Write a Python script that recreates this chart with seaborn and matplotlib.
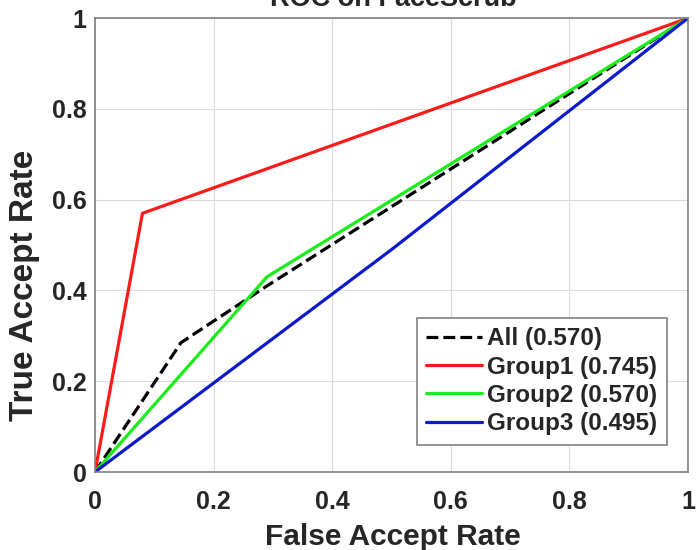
import matplotlib
matplotlib.use("Agg")
import matplotlib.pyplot as plt
import seaborn as sns
import pandas as pd

sns.set_theme(style="white")
plt.rcParams['font.family'] = ['Liberation Sans', 'DejaVu Sans']
plt.rcParams['font.weight'] = 'bold'

# data
all_x = [0.0, 0.145, 0.29, 1.0]
all_y = [0.0, 0.285, 0.41, 1.0]
g1_x = [0.0, 0.08, 1.0]
g1_y = [0.0, 0.57, 1.0]
g2_x = [0.0, 0.29, 1.0]
g2_y = [0.0, 0.43, 1.0]
g3_x = [0.0, 0.5, 1.0]
g3_y = [0.0, 0.49, 1.0]
labels = ["All (0.570)", "Group1 (0.745)", "Group2 (0.570)", "Group3 (0.495)"]
colors = ["#000000", "#ff1a1a", "#1aee1a", "#0d1acc"]
ticks = [0, 0.2, 0.4, 0.6, 0.8, 1]
tick_labels = ["0", "0.2", "0.4", "0.6", "0.8", "1"]

fig = plt.figure(figsize=(6.97, 5.5), dpi=100)
ax = fig.add_axes([0.1363, 0.1418, 0.987 - 0.1363, 0.967 - 0.1418])

series = [(all_x, all_y), (g1_x, g1_y), (g2_x, g2_y), (g3_x, g3_y)]
for (xs, ys), lab, col in zip(series, labels, colors):
    df = pd.DataFrame({"x": xs, "y": ys})
    sns.lineplot(data=df, x="x", y="y", ax=ax, sort=False, color=col,
                 linewidth=2.3, label=lab, estimator=None,
                 linestyle="--" if lab.startswith("All") else "-")

ax.set_xlim(0, 1)
ax.set_ylim(0, 1)
ax.set_xticks(ticks)
ax.set_yticks(ticks)
ax.set_xticklabels(tick_labels, fontsize=18, fontweight='bold', color='#262626')
ax.set_yticklabels(tick_labels, fontsize=18, fontweight='bold', color='#262626')
ax.tick_params(direction='in', length=5, width=0.8, color='#808080')
ax.tick_params(axis='x', pad=13)
ax.tick_params(axis='y', pad=6)
ax.grid(True, color='#dcdcdc', linewidth=0.8)
for s in ax.spines.values():
    s.set_color('#808080')
    s.set_linewidth(1.2)

ax.set_xlabel("False Accept Rate", fontsize=21.5, fontweight='bold', color='#262626')
ax.xaxis.set_label_coords(0.502, -0.112)
ax.set_ylabel("True Accept Rate", fontsize=24, fontweight='bold', color='#262626')
ax.yaxis.set_label_coords(-0.093, 0.412)
fig.text(0.565, 1 - 6 / 550, "ROC on FaceScrub", ha='center', va='baseline', fontsize=19.5,
         fontweight='bold', color='#262626')

leg = ax.legend(loc='lower right', bbox_to_anchor=(0.9646, 0.0595), fontsize=17.5,
                frameon=True, fancybox=False, framealpha=1, edgecolor='#808080',
                handlelength=2.3, handletextpad=0.2, borderpad=0.4, labelspacing=0.22,
                borderaxespad=0)
leg.get_frame().set_linewidth(1.2)
for t in leg.get_texts():
    t.set_fontweight('bold')
    t.set_color('#262626')

fig.savefig("out.png", dpi=100)
